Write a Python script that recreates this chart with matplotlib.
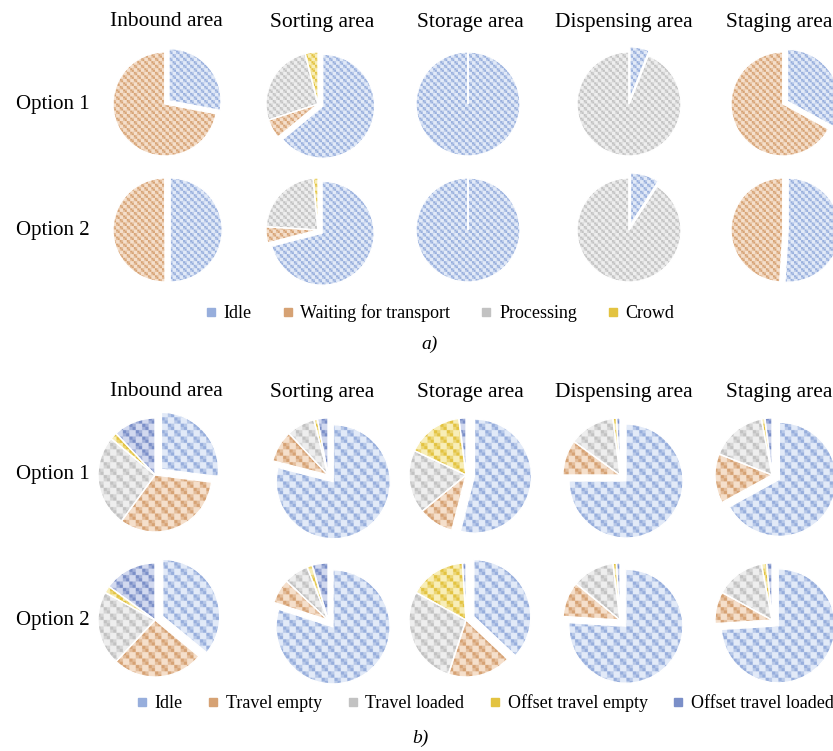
import numpy as np
import matplotlib
matplotlib.use('Agg')
import matplotlib.pyplot as plt
from matplotlib.lines import Line2D
from matplotlib.colors import to_rgb

plt.rcParams['font.family'] = ['Liberation Serif', 'DejaVu Serif']

areas = ['Inbound area', 'Sorting area', 'Storage area', 'Dispensing area', 'Staging area']
options = ['Option 1', 'Option 2']

# a) share of time per station state (%)
states_a = ['Idle', 'Waiting for transport', 'Processing', 'Crowd']
a_option1 = [
    [28, 72, 0, 0],
    [64, 6, 26, 4],
    [100, 0, 0, 0],
    [6, 0, 94, 0],
    [33, 67, 0, 0],
]
a_option2 = [
    [50, 50, 0, 0],
    [71, 5, 22.5, 1.5],
    [100, 0, 0, 0],
    [9, 0, 91, 0],
    [51, 49, 0, 0],
]

# b) share of time per vehicle state (%)
states_b = ['Idle', 'Travel empty', 'Travel loaded', 'Offset travel empty', 'Offset travel loaded']
b_option1 = [
    [27, 33, 26, 2, 12],
    [79, 9, 8, 1, 3],
    [54, 10, 18, 16, 2],
    [75, 10, 13, 1, 1],
    [67, 14, 16, 1, 2],
]
b_option2 = [
    [36, 26, 21, 2, 15],
    [80, 7, 7, 1.5, 4.5],
    [37, 18, 28, 16, 1],
    [76, 10, 12, 1, 1],
    [74, 9, 14, 1.5, 1.5],
]

# (dark square, light square) per state
PAL = [('#97aedc', '#e2eaf8'),
       ('#d6a274', '#f5dfcb'),
       ('#c2c2c2', '#eeeeee'),
       ('#e3c341', '#f8eeb8'),
       ('#7b8fc8', '#d2d9ef')]

W, H = 833, 751
LIM = 1.35

fig = plt.figure(figsize=(W / 100, H / 100), dpi=100)


def checker(dark, light, n):
    k = 4
    idx = np.arange(n * k)
    big = ((idx[:, None] // k + idx[None, :] // k) % 2) == 0
    fine = ((idx[:, None] // 2 + idx[None, :] // 2) % 2) == 0
    d, l = np.array(to_rgb(dark)), np.array(to_rgb(light))
    mid = 0.55 * d + 0.45 * l
    return np.where(big[..., None], np.where(fine[..., None], d, mid), l)


def pie_axes(cx, cy, r):
    half = r * LIM
    return fig.add_axes([(cx - half) / W, 1 - (cy + half) / H, 2 * half / W, 2 * half / H])


def draw_pie(ax, vals, n_sq, expl):
    vals = np.asarray(vals, float)
    explode = [expl if (i == 0 and np.count_nonzero(vals) > 1) else 0 for i in range(len(vals))]
    wedges, _ = ax.pie(vals, explode=explode, startangle=90, counterclock=False,
                       colors=[PAL[i][1] for i in range(len(vals))],
                       wedgeprops=dict(edgecolor='white', linewidth=1.0))
    for i, w in enumerate(wedges):
        tex = checker(PAL[i][0], PAL[i][1], n_sq)
        im = ax.imshow(tex, extent=[-LIM, LIM, -LIM, LIM], zorder=2,
                       interpolation='antialiased')
        im.set_clip_path(w)
        w.set_facecolor('none')
        w.set_zorder(3)
    ax.set_xlim(-LIM, LIM)
    ax.set_ylim(-LIM, LIM)
    ax.set_aspect('equal')
    ax.axis('off')


def legend(states, cx, cy, spacing):
    handles = [Line2D([], [], marker='s', ls='none', markersize=5.5,
                      markerfacecolor=PAL[i][0], markeredgecolor=PAL[i][0])
               for i in range(len(states))]
    fig.legend(handles, states, loc='center', bbox_to_anchor=(cx / W, 1 - cy / H),
               ncol=len(states), frameon=False, fontsize=13, handlelength=0.6,
               handletextpad=0.4, columnspacing=spacing, borderpad=0, borderaxespad=0)


heads_x = [166, 322, 470, 624, 779]
cols_a = [165, 318, 468, 629, 783]
rows_a = [104, 230]
cols_b = [155, 328, 466, 620, 772]
rows_b = [475, 620]

# ---- part a ----
for x, name in zip(heads_x, areas):
    fig.text(x / W, 1 - 22 / H, name, ha='center', va='center', fontsize=15.5)
for y, name in zip(rows_a, options):
    fig.text(53 / W, 1 - y / H, name, ha='center', va='center', fontsize=15)
for row, data in zip(rows_a, [a_option1, a_option2]):
    for x, vals in zip(cols_a, data):
        draw_pie(pie_axes(x, row, 52), vals, 40, 0.1)
legend(states_a, 440, 313, 1.7)
fig.text(430 / W, 1 - 344 / H, 'a)', ha='center', va='center', fontsize=14, style='italic')

# ---- part b ----
for x, name in zip(heads_x, areas):
    fig.text(x / W, 1 - 392 / H, name, ha='center', va='center', fontsize=15.5)
for y, name in zip(rows_b, options):
    fig.text(53 / W, 1 - y / H, name, ha='center', va='center', fontsize=15)
for row, data in zip(rows_b, [b_option1, b_option2]):
    for x, vals in zip(cols_b, data):
        draw_pie(pie_axes(x, row, 57), vals, 24, 0.15)
legend(states_b, 485, 703, 1.4)
fig.text(420 / W, 1 - 738 / H, 'b)', ha='center', va='center', fontsize=14, style='italic')

fig.savefig('out.png', dpi=100, facecolor='white')
